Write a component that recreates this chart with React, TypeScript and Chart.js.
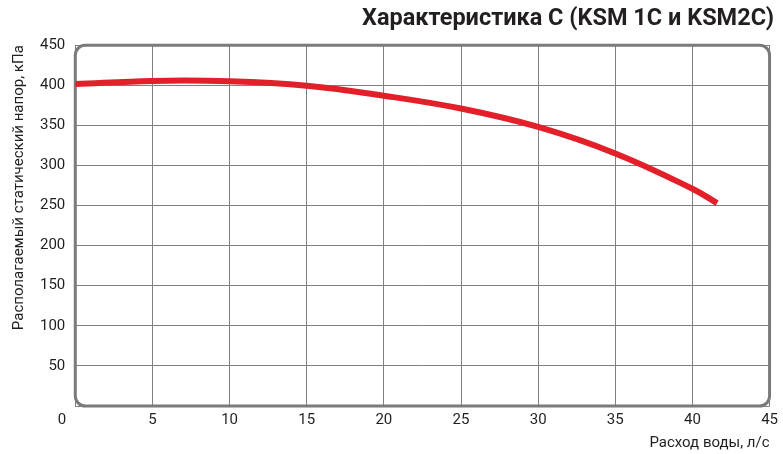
import React, { useEffect, useRef } from "react";
import { Chart, registerables } from "chart.js";

Chart.register(...registerables);

const titleText = "Характеристика C (KSM 1C и KSM2C)";
const yTitle = "Располагаемый статический напор, кПа";
const xTitle = "Расход воды, л/с";
const flowValues = [0, 5, 10, 15, 20, 25, 30, 35, 40, 41.6];
const pressureValues = [401.5, 405.5, 405, 399.5, 387, 371, 348, 315, 271, 253];
const xTicks = [0, 5, 10, 15, 20, 25, 30, 35, 40, 45];
const yTicks = [0, 50, 100, 150, 200, 250, 300, 350, 400, 450];

const textColor = "#231f20";
const gridColor = "#7f7f7f";
const curveColor = "#e3202a";

const borderPlugin = {
  id: "roundedBorder",
  beforeDatasetsDraw(chart: any) {
    const { ctx, chartArea } = chart;
    const { left, right, top, bottom } = chartArea;
    ctx.save();
    ctx.strokeStyle = "#7a7a7a";
    ctx.lineWidth = 3;
    ctx.beginPath();
    (ctx as any).roundRect(left, top, right - left, bottom - top, 10);
    ctx.stroke();
    ctx.restore();
  },
  afterDraw(chart: any) {
    const { ctx, chartArea } = chart;
    ctx.save();
    ctx.fillStyle = textColor;
    ctx.font = "15px Roboto";
    ctx.textAlign = "right";
    ctx.textBaseline = "middle";
    ctx.fillText(String(xTicks[0]), chartArea.left - 9, chartArea.bottom + 14);
    ctx.restore();
  },
};

export default function App() {
  const ref = useRef<HTMLCanvasElement | null>(null);
  useEffect(() => {
    document.body.style.margin = "0";
    const chart = new Chart(ref.current!, {
      type: "line",
      data: {
        datasets: [
          {
            data: flowValues.map((x, i) => ({ x, y: pressureValues[i] })),
            borderColor: curveColor,
            borderWidth: 6,
            pointRadius: 0,
            tension: 0.4,
            borderCapStyle: "butt",
            fill: false,
          },
        ],
      },
      options: {
        animation: false,
        responsive: false,
        maintainAspectRatio: false,
        layout: { padding: { left: 10, right: 9, top: 0, bottom: 2 } },
        plugins: {
          legend: { display: false },
          tooltip: { enabled: false },
          title: {
            display: true,
            text: titleText,
            align: "end",
            color: textColor,
            font: { family: "Roboto", size: 23.5, weight: "bold" },
            padding: { top: 5, bottom: 12 },
          },
        },
        scales: {
          x: {
            type: "linear",
            min: 0,
            max: 45,
            afterBuildTicks: (s: any) => {
              s.ticks = xTicks.map((v) => ({ value: v }));
            },
            ticks: {
              color: textColor,
              font: { family: "Roboto", size: 15 },
              padding: 5,
              maxRotation: 0,
              callback: (v: any) => (v === 0 ? "" : String(v)),
            },
            grid: { color: gridColor, lineWidth: 1, drawTicks: false },
            border: { display: false },
            title: {
              display: true,
              text: xTitle,
              align: "end",
              color: textColor,
              font: { family: "Roboto", size: 15 },
              padding: { top: 0, bottom: 0 },
            },
          },
          y: {
            type: "linear",
            min: 0,
            max: 450,
            afterBuildTicks: (s: any) => {
              s.ticks = yTicks.map((v) => ({ value: v }));
            },
            ticks: {
              color: textColor,
              font: { family: "Roboto", size: 15 },
              padding: 10,
              callback: (v: any) => (v === 0 ? "" : String(v)),
            },
            grid: { color: gridColor, lineWidth: 1, drawTicks: false },
            border: { display: false },
            title: {
              display: true,
              text: yTitle,
              align: "end",
              color: textColor,
              font: { family: "Roboto", size: 15 },
              padding: { top: 0, bottom: 2 },
            },
          },
        },
      },
      plugins: [borderPlugin],
    });
    return () => chart.destroy();
  }, []);
  return (
    <div style={{ width: 783, height: 454, background: "#fff" }}>
      <canvas ref={ref} width={783} height={454} />
    </div>
  );
}
